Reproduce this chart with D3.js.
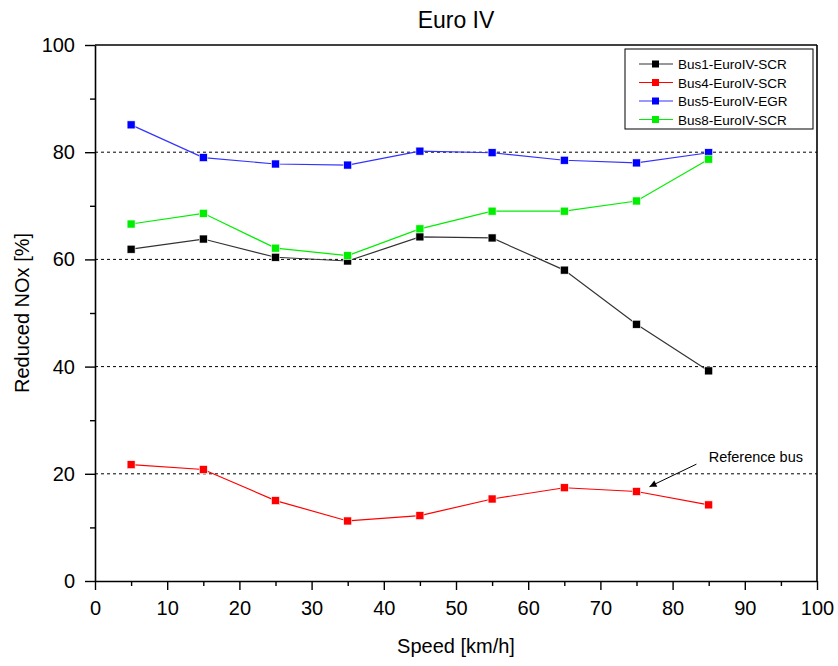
<!DOCTYPE html>
<html>
<head>
<meta charset="utf-8">
<script src="https://cdn.jsdelivr.net/npm/d3@7.9.0/dist/d3.min.js"></script>
<style>
  body { margin: 0; background: #fff; }
  svg { font-family: Arial, "Liberation Sans", sans-serif; }
</style>
</head>
<body>
<div id="chart"></div>
<script>
const speeds = [5, 15, 25, 35, 45, 55, 65, 75, 85];
const bus1 = [61.9, 63.8, 60.4, 59.7, 64.2, 64.0, 58.0, 47.9, 39.2];
const bus4 = [21.7, 20.8, 15.0, 11.2, 12.2, 15.3, 17.4, 16.7, 14.2];
const bus5 = [85.1, 79.0, 77.8, 77.6, 80.2, 79.9, 78.5, 78.0, 79.9];
const bus8 = [66.6, 68.6, 62.1, 60.7, 65.7, 69.0, 69.0, 70.9, 78.7];
const seriesNames = ["Bus1-EuroIV-SCR", "Bus4-EuroIV-SCR", "Bus5-EuroIV-EGR", "Bus8-EuroIV-SCR"];
const seriesColors = ["#000000", "#ff0000", "#0000ff", "#00ee00"];
const lineColors = ["#333333", "#ff0000", "#3333ff", "#00ee00"];
const xTicks = [0, 10, 20, 30, 40, 50, 60, 70, 80, 90, 100];
const yTicks = [0, 20, 40, 60, 80, 100];
const gridValues = [20, 40, 60, 80];

const width = 838, height = 666;
const margin = { top: 45, right: 21, bottom: 85, left: 95 };
const innerW = width - margin.left - margin.right;
const innerH = height - margin.top - margin.bottom;

const svg = d3.select("#chart").append("svg")
    .attr("width", width)
    .attr("height", height);

const g = svg.append("g")
    .attr("transform", "translate(" + margin.left + "," + margin.top + ")");

const x = d3.scaleLinear().domain([0, 100]).range([0, innerW]);
const y = d3.scaleLinear().domain([0, 100]).range([innerH, 0]);

// dashed gridlines
g.selectAll(".grid")
    .data(gridValues)
    .join("line")
    .attr("x1", 0)
    .attr("x2", innerW)
    .attr("y1", d => y(d))
    .attr("y2", d => y(d))
    .attr("stroke", "#000")
    .attr("stroke-width", 1)
    .attr("stroke-dasharray", "3,3");

// axes
g.append("g")
    .attr("transform", "translate(0," + innerH + ")")
    .call(d3.axisBottom(x).tickValues(xTicks).tickSize(9).tickSizeOuter(0).tickPadding(11));
g.append("g")
    .attr("transform", "translate(0," + innerH + ")")
    .call(d3.axisBottom(x).tickValues(d3.range(5, 100, 10)).tickSize(5).tickFormat(""))
    .select(".domain").remove();
g.append("g")
    .call(d3.axisLeft(y).tickValues(yTicks).tickSize(10).tickSizeOuter(0).tickPadding(10));
g.append("g")
    .call(d3.axisLeft(y).tickValues(d3.range(10, 100, 20)).tickSize(5).tickFormat(""))
    .select(".domain").remove();

g.selectAll(".domain").attr("stroke-width", 1.6);
g.selectAll(".tick line").attr("stroke-width", 1.4);
g.selectAll(".tick text")
    .attr("fill", "#000")
    .style("font-size", "20px")
    .style("font-family", "Arial, 'Liberation Sans', sans-serif");

// top and right frame
g.append("line").attr("x1", 0).attr("x2", innerW).attr("y1", 0).attr("y2", 0)
    .attr("stroke", "#000").attr("stroke-width", 1.6);
g.append("line").attr("x1", innerW).attr("x2", innerW).attr("y1", 0).attr("y2", innerH)
    .attr("stroke", "#000").attr("stroke-width", 1.6);

// series
const allSeries = [bus1, bus4, bus5, bus8];
const line = d3.line()
    .x((d, i) => x(speeds[i]))
    .y(d => y(d));

allSeries.forEach((vals, k) => {
    g.append("path")
        .datum(vals)
        .attr("fill", "none")
        .attr("stroke", lineColors[k])
        .attr("stroke-width", 1.2)
        .attr("d", line);
    g.selectAll(".pt" + k)
        .data(vals)
        .join("rect")
        .attr("x", (d, i) => x(speeds[i]) - 4)
        .attr("y", d => y(d) - 4)
        .attr("width", 8)
        .attr("height", 8)
        .attr("fill", seriesColors[k])
        .attr("stroke", "#fff")
        .attr("stroke-width", 0.6);
});

// legend
const legend = g.append("g").attr("transform", "translate(" + (innerW - 192) + ",4)");
legend.append("rect")
    .attr("width", 188)
    .attr("height", 80)
    .attr("fill", "#fff")
    .attr("stroke", "#000")
    .attr("stroke-width", 1);
seriesNames.forEach((name, k) => {
    const ly = 15 + k * 18.5;
    legend.append("line")
        .attr("x1", 14).attr("x2", 48)
        .attr("y1", ly).attr("y2", ly)
        .attr("stroke", lineColors[k])
        .attr("stroke-width", 1.2);
    legend.append("rect")
        .attr("x", 27).attr("y", ly - 3.5)
        .attr("width", 7).attr("height", 7)
        .attr("fill", seriesColors[k]);
    legend.append("text")
        .attr("x", 53).attr("y", ly + 5)
        .style("font-size", "13.5px")
        .text(name);
});

// annotation
g.append("text")
    .attr("x", x(85))
    .attr("y", y(22.2))
    .style("font-size", "14.5px")
    .text("Reference bus");
g.append("defs").append("marker")
    .attr("id", "arr")
    .attr("viewBox", "0 0 10 10")
    .attr("refX", 10).attr("refY", 5)
    .attr("markerWidth", 9).attr("markerHeight", 7)
    .attr("orient", "auto")
    .append("path").attr("d", "M0,0 L10,5 L0,10 z").attr("fill", "#000");
g.append("line")
    .attr("x1", x(83.3)).attr("y1", y(21.8))
    .attr("x2", x(76.8)).attr("y2", y(17.6))
    .attr("stroke", "#000")
    .attr("stroke-width", 1)
    .attr("marker-end", "url(#arr)");

// titles
svg.append("text")
    .attr("x", margin.left + innerW / 2)
    .attr("y", 28)
    .attr("text-anchor", "middle")
    .style("font-size", "23px")
    .text("Euro IV");
svg.append("text")
    .attr("x", margin.left + innerW / 2)
    .attr("y", 653)
    .attr("text-anchor", "middle")
    .style("font-size", "20px")
    .text("Speed [km/h]");
svg.append("text")
    .attr("transform", "rotate(-90)")
    .attr("x", -(margin.top + innerH / 2))
    .attr("y", 29)
    .attr("text-anchor", "middle")
    .style("font-size", "20px")
    .text("Reduced NOx [%]");
</script>
</body>
</html>
